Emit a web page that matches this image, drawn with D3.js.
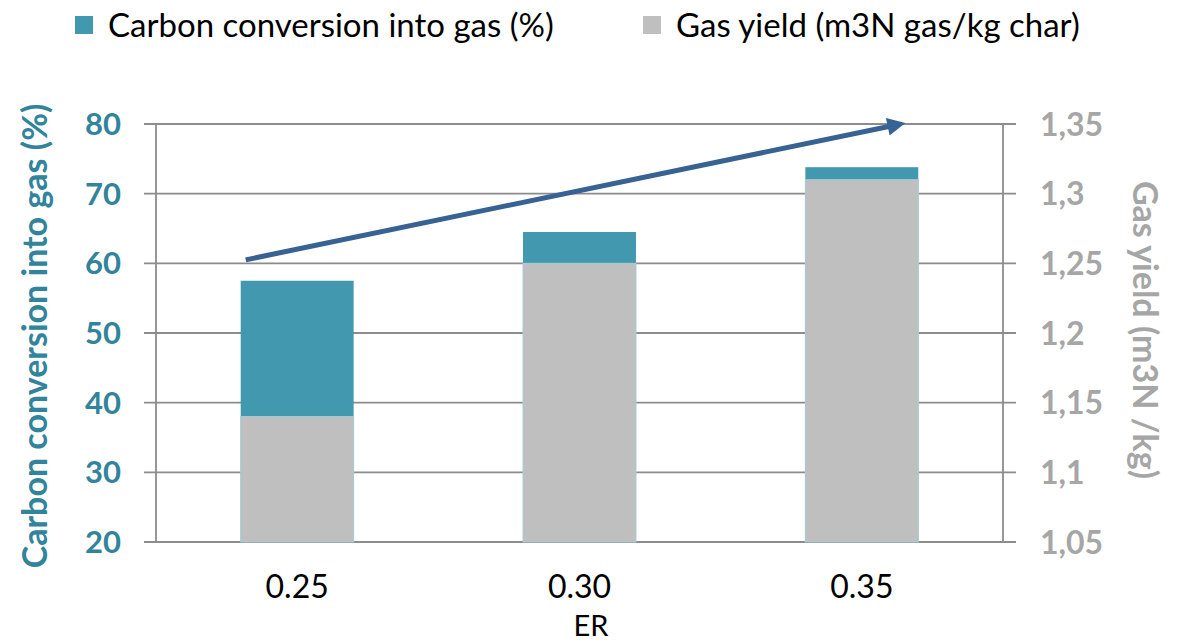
<!DOCTYPE html>
<html lang="en">
  <head>
    <meta charset="utf-8"/>
    <script src="https://d3js.org/d3.v7.min.js"></script>
    <title>Carbon conversion and gas yield</title>
    <style>
      body { margin: 0; background: #fff; }
      text { font-family: Lato, "Open Sans", sans-serif; }
    </style>
  </head>
  <body>
    <svg id="chart"></svg>
  <script>
  const width = 1178, height = 644;
  const margin = {top: 124, right: 175, bottom: 102, left: 156};

  // data
  const categories = ["0.25", "0.30", "0.35"];
  const carbonConversion = [57.5, 64.5, 73.8];   // %
  const gasYield = [1.14, 1.25, 1.31];            // m3N gas/kg char
  const leftTicks = [20, 30, 40, 50, 60, 70, 80];
  const rightTicks = [1.05, 1.1, 1.15, 1.2, 1.25, 1.3, 1.35];
  // trend arrow, [category index, left axis value]
  const arrowFrom = [0, 60.5];
  const arrowTo = [2, 80];

  const teal = "#4298ae", grey = "#bfbfbf";

  const svg = d3.select("#chart")
    .attr("width", width)
    .attr("height", height);

  const x = d3.scaleBand()
    .domain(categories)
    .range([margin.left, width - margin.right])
    .paddingInner(0.6)
    .paddingOuter(0.3);

  const yL = d3.scaleLinear().domain([20, 80]).range([height - margin.bottom, margin.top]);
  const yR = d3.scaleLinear().domain([1.05, 1.35]).range([height - margin.bottom, margin.top]);

  // gridlines
  svg.append("g")
    .selectAll("line")
    .data(leftTicks)
    .enter()
    .append("line")
      .attr("x1", margin.left - 12)
      .attr("x2", width - margin.right + 13)
      .attr("y1", d => yL(d))
      .attr("y2", d => yL(d))
      .style("stroke", "#8c8c8c")
      .style("stroke-width", 1.8);

  // vertical axis lines
  [margin.left, width - margin.right].forEach(function(px){
    svg.append("line")
      .attr("x1", px).attr("x2", px)
      .attr("y1", margin.top).attr("y2", height - margin.bottom)
      .style("stroke", "#8c8c8c")
      .style("stroke-width", 1.8);
  });

  // carbon conversion bars (behind)
  svg.selectAll("rect.cc")
    .data(categories)
    .enter()
    .append("rect")
      .attr("class", "cc")
      .attr("x", d => x(d))
      .attr("width", x.bandwidth())
      .attr("y", (d, i) => yL(carbonConversion[i]))
      .attr("height", (d, i) => yL(20) - yL(carbonConversion[i]))
      .style("fill", teal);

  // gas yield bars (front)
  svg.selectAll("rect.gy")
    .data(categories)
    .enter()
    .append("rect")
      .attr("class", "gy")
      .attr("x", d => x(d))
      .attr("width", x.bandwidth())
      .attr("y", (d, i) => yR(gasYield[i]))
      .attr("height", (d, i) => yR(1.05) - yR(gasYield[i]))
      .style("fill", grey)
      .style("stroke", "#a9cdd8")
      .style("stroke-width", 1);

  // left ticks
  svg.append("g")
    .selectAll("text")
    .data(leftTicks)
    .enter()
    .append("text")
      .attr("x", margin.left - 35)
      .attr("y", d => yL(d))
      .attr("dy", "0.36em")
      .attr("text-anchor", "end")
      .attr("font-size", "31px")
      .attr("font-weight", "bold")
      .attr("fill", "#31849b")
      .text(d => d);

  // right ticks
  svg.append("g")
    .selectAll("text")
    .data(rightTicks)
    .enter()
    .append("text")
      .attr("x", width - margin.right + 37)
      .attr("y", d => yR(d))
      .attr("dy", "0.36em")
      .attr("font-size", "32px")
      .attr("font-weight", "bold")
      .attr("fill", "#a6a6a6")
      .text(d => String(+d.toFixed(2)).replace(".", ","));

  // x labels
  svg.append("g")
    .selectAll("text")
    .data(categories)
    .enter()
    .append("text")
      .attr("x", d => x(d) + x.bandwidth() / 2)
      .attr("y", height - margin.bottom + 56)
      .attr("text-anchor", "middle")
      .attr("font-size", "32px")
      .attr("fill", "#000")
      .text(d => d);

  svg.append("text")
    .attr("x", 591)
    .attr("y", 636)
    .attr("text-anchor", "middle")
    .attr("font-size", "29px")
    .attr("fill", "#000")
    .text("ER");

  // axis titles
  svg.append("text")
    .attr("transform", "translate(47," + ((margin.top + height - margin.bottom) / 2 + 3) + ") rotate(-90)")
    .attr("text-anchor", "middle")
    .attr("font-size", "34px")
    .attr("font-weight", "bold")
    .attr("fill", "#31849b")
    .text("Carbon conversion into gas (%)");

  svg.append("text")
    .attr("transform", "translate(1133," + ((margin.top + height - margin.bottom) / 2 - 3) + ") rotate(90)")
    .attr("text-anchor", "middle")
    .attr("font-size", "34px")
    .attr("font-weight", "bold")
    .attr("fill", "#a6a6a6")
    .text("Gas yield (m3N /kg)");

  // trend arrow
  svg.append("defs").append("marker")
    .attr("id", "head")
    .attr("viewBox", "0 0 10 10")
    .attr("refX", 2).attr("refY", 5)
    .attr("markerWidth", 4).attr("markerHeight", 3.6)
    .attr("orient", "auto")
    .append("path")
      .attr("d", "M0,0 L10,5 L0,10 Z")
      .attr("fill", "#386293");

  const ax = i => x(categories[i]);
  svg.append("line")
    .attr("x1", ax(arrowFrom[0]) + 5)
    .attr("y1", yL(arrowFrom[1]))
    .attr("x2", ax(arrowTo[0]) + x.bandwidth() - 27)
    .attr("y2", yL(arrowTo[1]) + 2)
    .style("stroke", "#386293")
    .style("stroke-width", 5)
    .attr("marker-end", "url(#head)");

  // legend
  const legend = [
    {label: "Carbon conversion into gas (%)", color: teal, x: 75},
    {label: "Gas yield (m3N gas/kg char)", color: grey, x: 643}
  ];
  const lg = svg.append("g").selectAll("g").data(legend).enter().append("g");
  lg.append("rect")
    .attr("x", d => d.x).attr("y", 16)
    .attr("width", 18).attr("height", 18)
    .style("fill", d => d.color);
  lg.append("text")
    .attr("x", d => d.x + 33)
    .attr("y", 37)
    .attr("font-size", "33px")
    .attr("fill", "#000")
    .text(d => d.label);
  </script>
  </body>
</html>
